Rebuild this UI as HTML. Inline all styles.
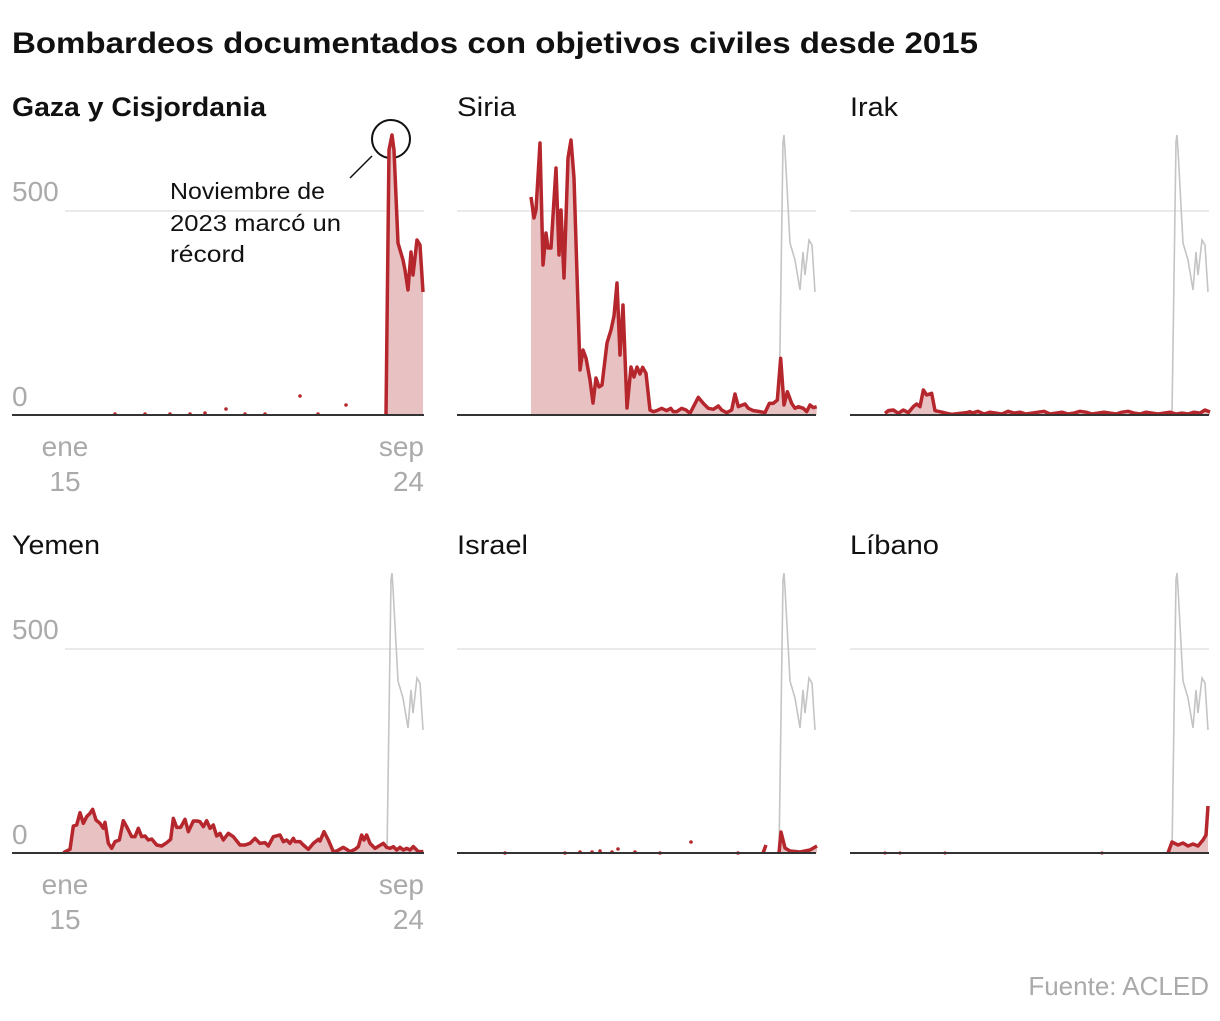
<!DOCTYPE html>
<html><head><meta charset="utf-8"><style>
body{margin:0;background:#fff;width:1220px;height:1016px;overflow:hidden;font-family:"Liberation Sans",sans-serif}
</style></head><body>
<svg id="s" width="1220" height="1016" xmlns="http://www.w3.org/2000/svg" font-family="Liberation Sans, sans-serif">
<text x="12" y="53" font-size="30" font-weight="bold" fill="#111" textLength="966" lengthAdjust="spacingAndGlyphs">Bombardeos documentados con objetivos civiles desde 2015</text>
<text x="12" y="116" font-size="27" font-weight="bold" fill="#111" textLength="254" lengthAdjust="spacingAndGlyphs">Gaza y Cisjordania</text>
<text x="457" y="116" font-size="27" fill="#111" textLength="59" lengthAdjust="spacingAndGlyphs">Siria</text>
<text x="850" y="116" font-size="27" fill="#111" textLength="48" lengthAdjust="spacingAndGlyphs">Irak</text>
<text x="12" y="554" font-size="27" fill="#111" textLength="88" lengthAdjust="spacingAndGlyphs">Yemen</text>
<text x="457" y="554" font-size="27" fill="#111" textLength="71" lengthAdjust="spacingAndGlyphs">Israel</text>
<text x="850" y="554" font-size="27" fill="#111" textLength="89" lengthAdjust="spacingAndGlyphs">Líbano</text>
<g font-size="28" fill="#aaa">
<text x="12" y="201">500</text><text x="12" y="406">0</text>
<text x="12" y="639">500</text><text x="12" y="844">0</text>
<text x="65" y="456" text-anchor="middle">ene</text><text x="65" y="491" text-anchor="middle">15</text>
<text x="424" y="456" text-anchor="end">sep</text><text x="424" y="491" text-anchor="end">24</text>
<text x="65" y="894" text-anchor="middle">ene</text><text x="65" y="929" text-anchor="middle">15</text>
<text x="424" y="894" text-anchor="end">sep</text><text x="424" y="929" text-anchor="end">24</text>
</g>
<text x="1209" y="995" text-anchor="end" font-size="26" fill="#aaa">Fuente: ACLED</text>
<g font-size="23" fill="#111">
<text x="170" y="199" textLength="155" lengthAdjust="spacingAndGlyphs">Noviembre de</text><text x="170" y="231" textLength="171" lengthAdjust="spacingAndGlyphs">2023 marcó un</text><text x="170" y="262" textLength="75" lengthAdjust="spacingAndGlyphs">récord</text>
</g>
<line x1="350" y1="178" x2="372" y2="156" stroke="#111" stroke-width="1.5"/>
<circle cx="391" cy="139" r="19" fill="none" stroke="#111" stroke-width="2"/>
<g id="g"></g>
</svg>
<script>
var NS="http://www.w3.org/2000/svg",G=document.getElementById('g');
function el(t,a){var e=document.createElementNS(NS,t);for(var k in a)e.setAttribute(k,a[k]);G.appendChild(e);return e;}
var panels=[[65,415],[457,415],[850,415],[65,853],[457,853],[850,853]];
panels.forEach(function(p){el('line',{x1:p[0],x2:p[0]+359,y1:p[1]-204,y2:p[1]-204,stroke:'#ddd','stroke-width':1.2});});
var gray=[[0,0],[322,0],[326,-273],[327,-280],[328,-265],[333,-172],[338,-155],[343,-125],[346,-163],[348,-140],[352,-175],[355,-170],[358,-123]];
[1,2,3,4,5].forEach(function(i){var p=panels[i];el('polyline',{points:gray.map(function(q){return (p[0]+q[0])+','+(p[1]+q[1]);}).join(' '),fill:'none',stroke:'#c4c4c4','stroke-width':1.6});});
function series(pts,base){
  var s=pts.map(function(q){return q[0]+','+q[1];}).join(' ');
  el('polygon',{points:pts[0][0]+','+base+' '+s+' '+pts[pts.length-1][0]+','+base,fill:'#e8c1c3'});
  el('polyline',{points:s,fill:'none',stroke:'#b5272d','stroke-width':3.5,'stroke-linejoin':'round'});
}
function conv(a,ox,oy){return a.map(function(q){return [ox+q[0]/3,oy+q[1]/3];});}
series([[386,415],[389,150],[392,135],[394,150],[398,243],[403,260],[405,270],[408,290],[411,252],[413,275],[417,240],[420,245],[423,292]],415);
[[115,414],[145,414],[170,414],[190,414],[205,413],[226,409],[245,414],[265,414],[300,396],[346,405],[318,414]].forEach(function(d){el('circle',{cx:d[0],cy:d[1],r:1.8,fill:'#b5272d'});});
var sy=[[531,197],[534,218],[536,210],[540,143],[543,265],[546,233],[548,248],[551,248],[556,168],[559,255],[561,210],[564,278],[568,158],[571,140],[574,178],[580,370],[583,350],[586,358],[590,380],[593,403],[596,378],[599,387],[602,385],[607,343],[611,330],[614,316],[617,283],[620,355],[623,305],[627,408],[631,367],[634,377],[637,367],[640,374]];
sy=sy.concat(conv([[8,82],[18,100],[30,210],[40,215],[50,212],[65,205],[80,212],[92,205],[100,215],[110,215],[125,205],[138,210],[150,220],[175,172],[190,190],[205,205],[220,208],[235,198],[245,210],[260,218],[275,210],[285,162],[295,200],[315,192],[325,205],[340,212],[360,215],[375,218],[388,190],[400,190],[412,180],[422,55],[432,195],[442,155],[455,190],[465,205],[475,200],[490,205],[500,215],[510,195],[520,203],[530,200]],640,340));
series(sy,415);
var ir=conv([[105,100],[115,92],[130,90],[145,100],[160,90],[175,98],[190,80],[200,72],[210,80],[220,30],[230,45],[245,40],[255,92],[270,95],[290,100],[305,103],[330,100],[350,98],[360,95]],850,380);
var v=[1,3,0,2,1,0,3,1,2,0,1,2,3,0,1,2,0,1,3,2,0,1,2,1,0,2,3,1,0,2,1,0,1,2,0,1,0,2];
for(var i=0,x=972;x<=1200;x+=6,i++)ir.push([x,414-v[i%v.length]*0.9]);
ir.push([1205,410],[1210,412]);
series(ir,415);
var ye=conv([[10,188],[30,178],[40,108],[50,105],[60,68],[70,100],[80,80],[90,70],[98,58],[108,90],[120,100],[130,115],[135,97],[145,160],[155,175],[165,155],[178,150],[190,92],[200,110],[215,140],[225,140],[235,115],[245,140],[255,138],[265,150],[275,147],[290,165],[305,168],[320,158],[332,148],[340,85],[350,112],[362,112],[375,88],[385,125],[400,93],[412,93],[420,95],[430,110],[440,92],[450,115],[460,105],[470,138],[480,130],[490,150],[505,130],[520,140],[540,165],[555,165],[570,160],[585,145],[600,160],[615,158],[625,168],[640,140],[660,135],[670,155],[680,150],[690,160],[700,145],[705,155],[720,155],[730,165],[745,178],[760,160],[775,148],[780,153],[792,125],[805,150],[820,185],[830,183],[850,172],[860,178],[870,185],[885,178],[895,170],[905,135],[912,150],[920,135],[930,160],[945,175],[970,160],[980,172],[990,175],[1000,170],[1010,180],[1020,172],[1030,180],[1040,175],[1050,180],[1060,170],[1075,185],[1090,185]],60,790);
series(ye,853);
series([[763,853],[766,845]],853);
series([[779,853],[781,832],[785,848],[790,851],[800,852],[810,850],[817,846]],853);
[[505,853],[565,853],[580,852],[592,852],[600,851],[612,852],[618,849],[635,852],[660,853],[691,842],[738,853]].forEach(function(d){el('circle',{cx:d[0],cy:d[1],r:1.8,fill:'#b5272d'});});
series([[1168,853],[1172,842],[1178,845],[1183,843],[1188,846],[1193,844],[1198,846],[1203,840],[1206,835],[1208,806]],853);
[[885,853],[900,853],[945,853],[1102,853]].forEach(function(d){el('circle',{cx:d[0],cy:d[1],r:1.6,fill:'#b5272d'});});
panels.forEach(function(p){el('line',{x1:p[0],x2:p[0]+359,y1:p[1],y2:p[1],stroke:'#333','stroke-width':2});});
el('line',{x1:12,x2:65,y1:415,y2:415,stroke:'#333','stroke-width':2});
el('line',{x1:12,x2:65,y1:853,y2:853,stroke:'#333','stroke-width':2});
</script>
</body></html>
